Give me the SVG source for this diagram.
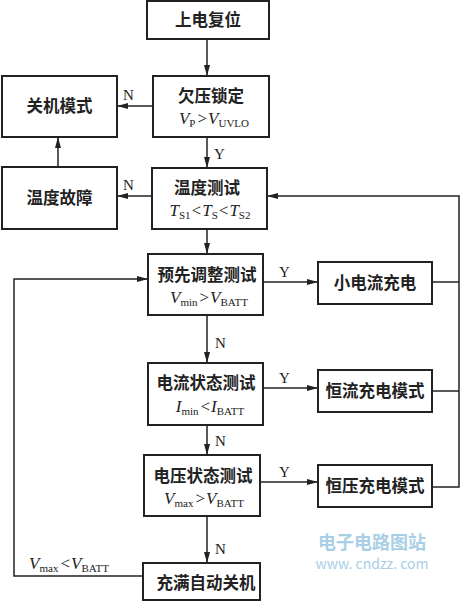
<svg xmlns="http://www.w3.org/2000/svg" width="460" height="602" viewBox="0 0 460 602">
<defs>
<marker id="ah" markerWidth="12" markerHeight="8" refX="11" refY="4" orient="auto" markerUnits="userSpaceOnUse">
<path d="M0,1 L11,4 L0,7 Z" fill="#222"/>
</marker>
<style>
.box{fill:#fff;stroke:#222;stroke-width:2}
.cn{font-family:"Noto Sans CJK SC",sans-serif;font-weight:700;font-size:16.5px;fill:#222;text-anchor:middle}
.f{font-family:"Liberation Serif",serif;font-size:17px;fill:#222;text-anchor:middle}
.i{font-style:italic}
.s{font-size:11px}
.lbl{font-family:"Liberation Serif",serif;font-size:15px;fill:#222}
.ln{fill:none;stroke:#222;stroke-width:1.5}
.wm{font-family:"Noto Sans CJK SC",sans-serif;fill:#a8cfe6;text-anchor:middle}
</style>
</defs>
<rect width="460" height="602" fill="#fff"/>
<g id="connectors">
<line class="ln" x1="207" y1="39" x2="207" y2="76" marker-end="url(#ah)"/>
<line class="ln" x1="153" y1="106" x2="117" y2="106" marker-end="url(#ah)"/>
<line class="ln" x1="207" y1="137" x2="207" y2="168" marker-end="url(#ah)"/>
<line class="ln" x1="152" y1="196" x2="117" y2="196" marker-end="url(#ah)"/>
<line class="ln" x1="58" y1="167" x2="58" y2="137" marker-end="url(#ah)"/>
<line class="ln" x1="207" y1="229" x2="207" y2="254" marker-end="url(#ah)"/>
<line class="ln" x1="263" y1="282" x2="318" y2="282" marker-end="url(#ah)"/>
<line class="ln" x1="432" y1="282" x2="459" y2="282"/>
<polyline class="ln" points="432,487 459,487 459,196 267,196" marker-end="url(#ah)"/>
<line class="ln" x1="432" y1="391" x2="459" y2="391"/>
<line class="ln" x1="207" y1="315" x2="207" y2="363" marker-end="url(#ah)"/>
<line class="ln" x1="263" y1="388" x2="318" y2="388" marker-end="url(#ah)"/>
<line class="ln" x1="207" y1="425" x2="207" y2="455" marker-end="url(#ah)"/>
<line class="ln" x1="260" y1="482" x2="318" y2="482" marker-end="url(#ah)"/>
<line class="ln" x1="207" y1="516" x2="207" y2="563" marker-end="url(#ah)"/>
<polyline class="ln" points="143,576 14,576 14,279 148,279" marker-end="url(#ah)"/>
<text class="lbl" x="123" y="100">N</text>
<text class="lbl" x="214" y="159">Y</text>
<text class="lbl" x="123" y="190">N</text>
<text class="lbl" x="279" y="277">Y</text>
<text class="lbl" x="215" y="348">N</text>
<text class="lbl" x="279" y="383">Y</text>
<text class="lbl" x="215" y="446">N</text>
<text class="lbl" x="279" y="477">Y</text>
<text class="lbl" x="215" y="554">N</text>
<text class="f" x="69" y="569"><tspan class="i">V</tspan><tspan class="s" dy="3">max</tspan><tspan dy="-3" dx="2">&lt;</tspan><tspan class="i" dx="1">V</tspan><tspan class="s" dy="3">BATT</tspan></text>
</g>
<g id="n1"><rect class="box" x="147" y="1" width="122" height="38"/><text class="cn" x="208" y="26">上电复位</text></g>
<g id="n2"><rect class="box" x="153" y="76" width="116" height="61"/><text class="cn" x="211" y="102">欠压锁定</text>
<text class="f" x="214" y="124"><tspan class="i">V</tspan><tspan class="s" dy="3">P</tspan><tspan dy="-3" dx="2">&gt;</tspan><tspan class="i" dx="1">V</tspan><tspan class="s" dy="3">UVLO</tspan></text></g>
<g id="n3"><rect class="box" x="2" y="76" width="115" height="61"/><text class="cn" x="59.5" y="112">关机模式</text></g>
<g id="n4"><rect class="box" x="2" y="167" width="115" height="62"/><text class="cn" x="59.5" y="204">温度故障</text></g>
<g id="n5"><rect class="box" x="152" y="168" width="115" height="61"/><text class="cn" x="207" y="194">温度测试</text>
<text class="f" x="210" y="216"><tspan class="i">T</tspan><tspan class="s" dy="3">S1</tspan><tspan dy="-3" dx="1">&lt;</tspan><tspan class="i" dx="1">T</tspan><tspan class="s" dy="3">S</tspan><tspan dy="-3" dx="1">&lt;</tspan><tspan class="i" dx="1">T</tspan><tspan class="s" dy="3">S2</tspan></text></g>
<g id="n6"><rect class="box" x="148" y="254" width="115" height="61"/><text class="cn" x="207" y="281">预先调整测试</text>
<text class="f" x="209" y="303"><tspan class="i">V</tspan><tspan class="s" dy="3">min</tspan><tspan dy="-3" dx="2">&gt;</tspan><tspan class="i" dx="1">V</tspan><tspan class="s" dy="3">BATT</tspan></text></g>
<g id="n7"><rect class="box" x="318" y="262" width="114" height="42"/><text class="cn" x="375" y="289">小电流充电</text></g>
<g id="n8"><rect class="box" x="148" y="363" width="115" height="62"/><text class="cn" x="206" y="389">电流状态测试</text>
<text class="f" x="210" y="412"><tspan class="i">I</tspan><tspan class="s" dy="3">min</tspan><tspan dy="-3" dx="2">&lt;</tspan><tspan class="i" dx="1">I</tspan><tspan class="s" dy="3">BATT</tspan></text></g>
<g id="n9"><rect class="box" x="318" y="370" width="114" height="42"/><text class="cn" x="375" y="397">恒流充电模式</text></g>
<g id="n10"><rect class="box" x="144" y="455" width="116" height="61"/><text class="cn" x="203" y="482">电压状态测试</text>
<text class="f" x="204" y="504"><tspan class="i">V</tspan><tspan class="s" dy="3">max</tspan><tspan dy="-3" dx="2">&gt;</tspan><tspan class="i" dx="1">V</tspan><tspan class="s" dy="3">BATT</tspan></text></g>
<g id="n11"><rect class="box" x="318" y="465" width="114" height="42"/><text class="cn" x="375" y="492">恒压充电模式</text></g>
<g id="n12"><rect class="box" x="143" y="563" width="117" height="37"/><text class="cn" x="206" y="589">充满自动关机</text></g>
<g id="watermark">
<text class="wm" x="372" y="549" font-size="18px" font-weight="700">电子电路图站</text>
<text class="wm" x="372" y="569" font-size="14px" font-family="Liberation Sans,sans-serif">www. cndzz. com</text>
</g>
</svg>
